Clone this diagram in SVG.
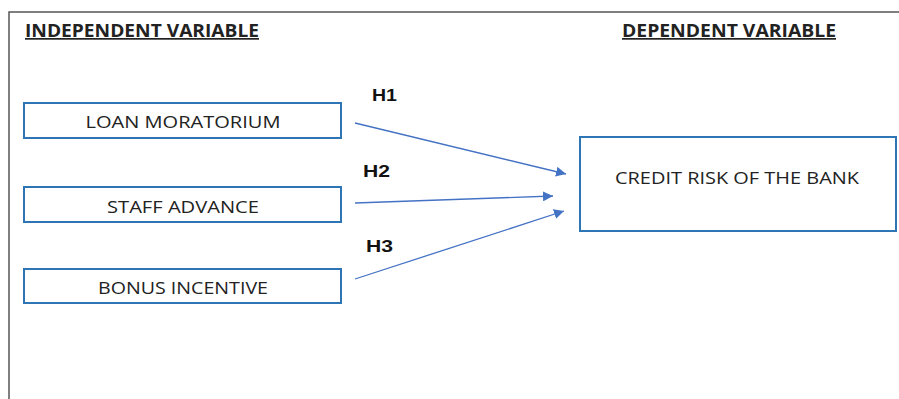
<svg xmlns="http://www.w3.org/2000/svg" width="899" height="399" viewBox="0 0 899 399">
<style>
.frame{fill:none;stroke:#555;stroke-width:1.5}
.box{fill:#fff;stroke:#2E75B6;stroke-width:2}
.lbl{font-family:"Open Sans","Liberation Sans",sans-serif;font-size:16.5px;fill:#222;text-anchor:middle}
.head{font-family:"Open Sans","Liberation Sans",sans-serif;font-size:17px;font-weight:bold;fill:#222;text-decoration:underline}
.h{font-family:"Liberation Sans",Arial,sans-serif;font-size:17px;font-weight:bold;fill:#111}
.conn{stroke:#4472C4;stroke-width:1.3;fill:none;marker-end:url(#arr)}
</style>
<defs>
<marker id="arr" viewBox="0 0 10 10" refX="10" refY="5" markerWidth="10" markerHeight="10" markerUnits="userSpaceOnUse" orient="auto">
<path d="M0,0 L10,5 L0,10 z" fill="#4472C4"/>
</marker>
</defs>
<rect width="899" height="399" fill="#fff"/>
<path class="frame" d="M9,399 L9,12 L899,12"/>
<text class="head" x="25" y="37" textLength="234" lengthAdjust="spacingAndGlyphs">INDEPENDENT VARIABLE</text>
<text class="head" x="622" y="37" textLength="214" lengthAdjust="spacingAndGlyphs">DEPENDENT VARIABLE</text>
<g id="loan">
<rect class="box" x="24" y="103" width="317" height="35"/>
<text class="lbl" x="183" y="128" textLength="195" lengthAdjust="spacingAndGlyphs">LOAN MORATORIUM</text>
</g>
<g id="staff">
<rect class="box" x="24" y="187" width="317" height="35"/>
<text class="lbl" x="183" y="213" textLength="152" lengthAdjust="spacingAndGlyphs">STAFF ADVANCE</text>
</g>
<g id="bonus">
<rect class="box" x="24" y="269" width="317" height="34"/>
<text class="lbl" x="183" y="294" textLength="170" lengthAdjust="spacingAndGlyphs">BONUS INCENTIVE</text>
</g>
<g id="credit">
<rect class="box" x="580" y="137" width="316" height="94"/>
<text class="lbl" x="737" y="184" textLength="244" lengthAdjust="spacingAndGlyphs">CREDIT RISK OF THE BANK</text>
</g>
<g id="connectors">
<line class="conn" x1="355" y1="123" x2="566" y2="174"/>
<line class="conn" x1="355" y1="203" x2="553" y2="196"/>
<line class="conn" x1="355" y1="279" x2="564" y2="211"/>
<text class="h" x="372" y="101" textLength="25" lengthAdjust="spacingAndGlyphs">H1</text>
<text class="h" x="363" y="177" textLength="27" lengthAdjust="spacingAndGlyphs">H2</text>
<text class="h" x="366" y="252" textLength="27" lengthAdjust="spacingAndGlyphs">H3</text>
</g>
</svg>
